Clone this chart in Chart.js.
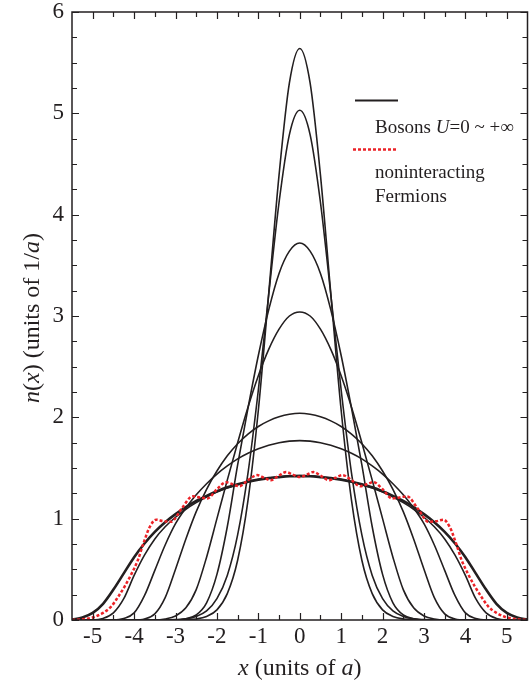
<!DOCTYPE html>
<html>
<head>
<meta charset="utf-8">
<script src="https://cdn.jsdelivr.net/npm/chart.js@4.4.0/dist/chart.umd.min.js"></script>
<style>
  html, body { margin: 0; padding: 0; background: #fff; }
  #wrap { width: 532px; height: 684px; }
</style>
</head>
<body>
<div id="wrap"><canvas id="densityChart" width="532" height="684"></canvas></div>
<script>
// --- Data (half profiles for x >= 0; curves are symmetric) ---
const xHalf = [0, 0.25, 0.5, 0.75, 1, 1.25, 1.5, 1.75, 2, 2.25, 2.5, 2.75, 3, 3.25, 3.5, 3.75, 4, 4.25, 4.5, 4.75, 5, 5.25, 5.5];

// bosons, interaction U increasing from 0 (top) to +inf (thick)
const bosonU0 = [5.64, 5.30, 4.39, 3.22, 2.07, 1.18, 0.59, 0.26, 0.10, 0.035, 0.01, 0.003, 0, 0, 0, 0, 0, 0, 0, 0, 0, 0, 0];
const bosonU1 = [5.03, 4.79, 4.12, 3.21, 2.27, 1.45, 0.84, 0.44, 0.21, 0.089, 0.035, 0.012, 0.004, 0, 0, 0, 0, 0, 0, 0, 0, 0, 0];
const bosonU2 = [3.72, 3.64, 3.42, 3.06, 2.61, 2.09, 1.53, 0.92, 0.45, 0.17, 0.05, 0.012, 0, 0, 0, 0, 0, 0, 0, 0, 0, 0, 0];
const bosonU3 = [3.04, 3.00, 2.87, 2.67, 2.41, 2.10, 1.75, 1.38, 1.00, 0.62, 0.30, 0.12, 0.04, 0.01, 0, 0, 0, 0, 0, 0, 0, 0, 0];
const bosonU4 = [2.04, 2.03, 2.005, 1.965, 1.91, 1.835, 1.74, 1.62, 1.47, 1.29, 1.07, 0.80, 0.50, 0.22, 0.06, 0.01, 0, 0, 0, 0, 0, 0, 0];
const bosonU5 = [1.77, 1.765, 1.75, 1.725, 1.69, 1.645, 1.59, 1.52, 1.44, 1.345, 1.235, 1.105, 0.95, 0.74, 0.49, 0.24, 0.07, 0.015, 0, 0, 0, 0, 0];
const bosonU6 = [1.425, 1.422, 1.414, 1.402, 1.386, 1.364, 1.336, 1.302, 1.262, 1.214, 1.158, 1.093, 1.014, 0.92, 0.80, 0.64, 0.44, 0.21, 0.07, 0.015, 0, 0, 0];
const bosonInf = [1.42, 1.418, 1.41, 1.40, 1.385, 1.365, 1.34, 1.31, 1.27, 1.225, 1.175, 1.115, 1.045, 0.965, 0.87, 0.755, 0.62, 0.46, 0.30, 0.16, 0.07, 0.025, 0.005];

// noninteracting fermions (own x sampling to follow the ripples)
const xFermi = [0, 0.17, 0.33, 0.52, 0.70, 0.87, 1.03, 1.25, 1.46, 1.62, 1.78, 2.0, 2.23, 2.41, 2.59, 2.85, 3.11, 3.3, 3.47, 3.62, 3.78, 3.91, 4.07, 4.23, 4.4, 4.56, 4.75, 4.96, 5.2, 5.5];
const fermions = [1.41, 1.435, 1.46, 1.42, 1.38, 1.405, 1.43, 1.38, 1.32, 1.34, 1.36, 1.29, 1.20, 1.21, 1.22, 1.10, 0.97, 0.975, 0.99, 0.92, 0.75, 0.59, 0.45, 0.33, 0.22, 0.13, 0.07, 0.03, 0.01, 0];

const xTicks = [-5, -4, -3, -2, -1, 0, 1, 2, 3, 4, 5];
const yTicks = [0, 1, 2, 3, 4, 5, 6];

const INK = '#231f20';
const RED = '#ec2227';
const FONT = '"Liberation Serif", "Times New Roman", serif';

// mirror a half profile into a full symmetric set of points
function mirror(xs, ys) {
    const pts = [];
    for (let i = xs.length - 1; i > 0; i--) pts.push({ x: -xs[i], y: ys[i] });
    for (let i = 0; i < xs.length; i++) pts.push({ x: xs[i], y: ys[i] });
    return pts;
}

function line(data, width, color, dash) {
    return {
        data: data,
        borderColor: color,
        borderWidth: width,
        borderDash: dash || [],
        pointRadius: 0,
        fill: false,
        cubicInterpolationMode: 'monotone'
    };
}

// --- text helper: parts = [[text, italic], ...] ---
function drawParts(ctx, parts, x, y, size, align) {
    let total = 0;
    parts.forEach(p => {
        ctx.font = (p[1] ? 'italic ' : '') + size + 'px ' + FONT;
        total += ctx.measureText(p[0]).width;
    });
    let cx = align === 'center' ? x - total / 2 : x;
    ctx.textAlign = 'left';
    ctx.textBaseline = 'alphabetic';
    parts.forEach(p => {
        ctx.font = (p[1] ? 'italic ' : '') + size + 'px ' + FONT;
        ctx.fillText(p[0], cx, y);
        cx += ctx.measureText(p[0]).width;
    });
}

const frameTicks = {
    id: 'frameTicks',
    afterDraw(chart) {
        const { ctx, chartArea: a, scales } = chart;
        ctx.save();
        ctx.strokeStyle = INK;
        ctx.fillStyle = INK;

        // box
        ctx.lineWidth = 1.5;
        ctx.strokeRect(a.left, a.top, a.right - a.left, a.bottom - a.top);

        // inward ticks on all four sides
        ctx.lineWidth = 1.2;
        ctx.beginPath();
        for (let i = -10; i <= 10; i++) {
            const px = Math.round(scales.x.getPixelForValue(i / 2)) + 0.5;
            const len = i % 2 === 0 ? 7 : 5;
            ctx.moveTo(px, a.bottom); ctx.lineTo(px, a.bottom - len);
            ctx.moveTo(px, a.top); ctx.lineTo(px, a.top + len);
        }
        for (let i = 0; i <= 24; i++) {
            const py = Math.round(scales.y.getPixelForValue(i / 4)) + 0.5;
            const len = i % 4 === 0 ? 7 : 5;
            ctx.moveTo(a.left, py); ctx.lineTo(a.left + len, py);
            ctx.moveTo(a.right, py); ctx.lineTo(a.right - len, py);
        }
        ctx.stroke();

        // axis titles
        drawParts(ctx, [['x', true], [' (units of ', false], ['a', true], [')', false]],
            (a.left + a.right) / 2, 675, 24, 'center');
        ctx.save();
        ctx.translate(39, 318);
        ctx.rotate(-Math.PI / 2);
        drawParts(ctx, [['n', true], ['(', false], ['x', true], [') (units of 1/', false], ['a', true], [')', false]],
            0, 0, 24, 'center');
        ctx.restore();

        // legend
        ctx.lineWidth = 2;
        ctx.beginPath();
        ctx.moveTo(355, 100.5); ctx.lineTo(398, 100.5);
        ctx.stroke();
        drawParts(ctx, [['Bosons ', false], ['U', true], ['=0 ~ +\u221E', false]], 375, 133, 19, 'left');

        ctx.strokeStyle = RED;
        ctx.lineWidth = 2.4;
        ctx.setLineDash([3, 2]);
        ctx.beginPath();
        ctx.moveTo(353, 149.5); ctx.lineTo(397, 149.5);
        ctx.stroke();
        ctx.setLineDash([]);
        drawParts(ctx, [['noninteracting', false]], 375, 178, 19, 'left');
        drawParts(ctx, [['Fermions', false]], 375, 202, 19, 'left');
        ctx.restore();
    }
};

window.addEventListener('DOMContentLoaded', () => {
    const ctx = document.getElementById('densityChart').getContext('2d');
    new Chart(ctx, {
        type: 'line',
        data: {
            datasets: [
                line(mirror(xFermi, fermions), 2.5, RED, [3, 2]),
                line(mirror(xHalf, bosonInf), 2.6, INK),
                line(mirror(xHalf, bosonU6), 1.6, INK),
                line(mirror(xHalf, bosonU5), 1.6, INK),
                line(mirror(xHalf, bosonU4), 1.6, INK),
                line(mirror(xHalf, bosonU3), 1.6, INK),
                line(mirror(xHalf, bosonU2), 1.6, INK),
                line(mirror(xHalf, bosonU1), 1.6, INK),
                line(mirror(xHalf, bosonU0), 1.6, INK)
            ]
        },
        options: {
            responsive: false,
            animation: false,
            layout: { padding: { top: 12, right: 4.5, left: 0, bottom: 0 } },
            plugins: { legend: { display: false }, tooltip: { enabled: false } },
            scales: {
                x: {
                    type: 'linear',
                    min: -5.5,
                    max: 5.5,
                    grid: { display: false, drawTicks: false },
                    border: { display: false },
                    afterFit(scale) {
                        scale.height = 64;
                        scale.paddingLeft = 0;
                        scale.paddingRight = 0;
                    },
                    afterBuildTicks(scale) { scale.ticks = xTicks.map(v => ({ value: v })); },
                    ticks: {
                        color: INK,
                        padding: 3,
                        font: { family: FONT, size: 23 },
                        maxRotation: 0,
                        autoSkip: false,
                        callback: v => String(v)
                    }
                },
                y: {
                    min: 0,
                    max: 6,
                    grid: { display: false, drawTicks: false },
                    border: { display: false },
                    afterFit(scale) {
                        scale.width = 72;
                        scale.paddingTop = 0;
                        scale.paddingBottom = 0;
                    },
                    afterBuildTicks(scale) { scale.ticks = yTicks.map(v => ({ value: v })); },
                    ticks: {
                        color: INK,
                        padding: 8,
                        font: { family: FONT, size: 23 },
                        callback: v => String(v)
                    }
                }
            }
        },
        plugins: [frameTicks]
    });
});
</script>
</body>
</html>
